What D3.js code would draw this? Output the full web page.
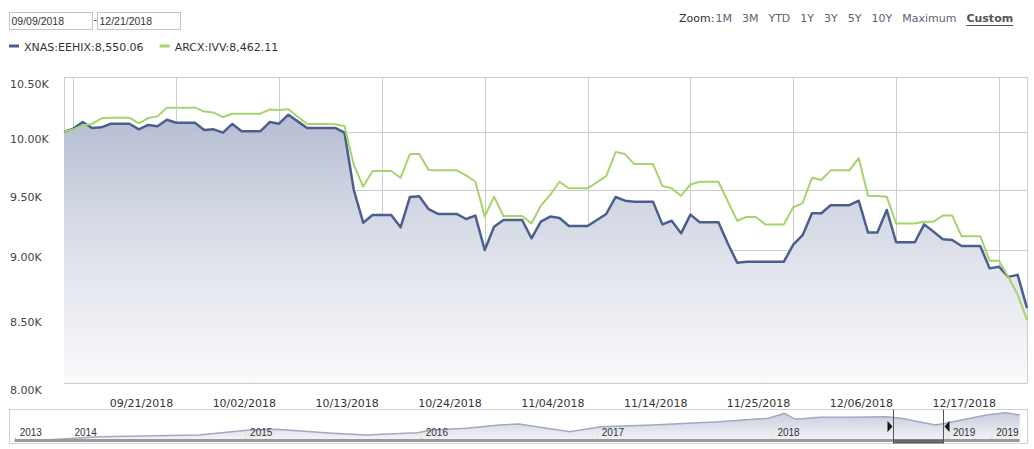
<!DOCTYPE html>
<html><head><meta charset="utf-8">
<script src="https://cdn.jsdelivr.net/npm/d3@7"></script>
<style>
html,body{margin:0;padding:0;background:#fff;}
svg{display:block;}
</style></head>
<body>
<svg id="chart" width="1034" height="449"></svg>
<script>
// ---------------- DATA ----------------
const startDate = "2018-09-09";
const endDate = "2018-12-21";
const seriesNames = ["XNAS:EEHIX", "ARCX:IVV"];
// daily values (weekends carry Friday's value), growth of 10,000
const eehix = [10000,10029,10088,10035,10041,10073,10073,10073,10023,10062,
  10050,10109,10082,10082,10082,10017,10023,9993,10071,10005,
  10005,10005,10088,10073,10154,10094,10035,10035,10035,10035,
  9993,9497,9225,9288,9288,9288,9187,9438,9444,9336,
  9297,9297,9297,9255,9283,9004,9192,9247,9247,9247,
  9098,9233,9275,9264,9198,9198,9198,9247,9297,9438,
  9407,9399,9399,9399,9211,9241,9138,9291,9228,9228,
  9228,9056,8903,8911,8911,8911,8911,8911,9047,9123,
  9303,9303,9369,9369,9369,9407,9144,9144,9330,9066,
  9066,9066,9211,9152,9090,9084,9036,9036,9036,8858,
  8871,8791,8807,8550.06];
const ivv = [10000,10023,10059,10071,10121,10127,10127,10127,10077,10124,
  10139,10218,10218,10218,10218,10182,10173,10133,10163,10163,
  10163,10163,10200,10197,10203,10136,10071,10071,10071,10068,
  10053,9710,9525,9659,9659,9659,9601,9805,9805,9667,
  9664,9664,9664,9621,9567,9275,9441,9280,9280,9280,
  9219,9365,9455,9567,9511,9511,9511,9561,9616,9823,
  9805,9718,9718,9718,9531,9511,9447,9544,9567,9567,
  9567,9401,9241,9272,9272,9211,9211,9211,9352,9386,
  9601,9582,9664,9664,9664,9770,9447,9447,9441,9219,
  9219,9219,9233,9233,9283,9283,9115,9115,9115,8919,
  8919,8791,8654,8462.11];
const yTickValues = [8000, 8500, 9000, 9500, 10000, 10500];
const xTickDates = ["2018-09-10","2018-09-21","2018-10-02","2018-10-13","2018-10-24",
  "2018-11-04","2018-11-15","2018-11-26","2018-12-07","2018-12-18"];
const xTickLabels = ["","09/21/2018","10/02/2018","10/13/2018","10/24/2018",
  "11/04/2018","11/14/2018","11/25/2018","12/06/2018","12/17/2018"];
const zoomLabels = ["1M","3M","YTD","1Y","3Y","5Y","10Y","Maximum"];
const customLabel = "Custom";
// navigator (long history)
const navDates = ["2013-09-09","2013-11-10","2014-03-05","2014-09-27","2014-12-05",
  "2015-01-10","2015-03-06","2015-07-01","2015-09-09","2015-12-24","2016-01-26",
  "2016-04-05","2016-06-13","2016-07-23","2016-11-06","2017-01-10","2017-04-27",
  "2017-09-13","2017-12-24","2018-01-26","2018-02-18","2018-04-10","2018-06-13",
  "2018-08-25","2018-09-26","2018-12-05","2018-12-27","2019-03-22","2019-05-01","2019-05-30"];
const navValues = [10000,10231,11320,11881,12970,
  13531,13762,12442,11881,12640,13531,
  14092,15181,15511,12970,14620,15181,
  16270,17392,19042,17062,17722,17722,
  17920,17392,15181,15742,18481,19240,18481];
const navTickDates = ["2013-09-09","2014-01-01","2015-01-01","2016-01-01","2017-01-01",
  "2018-01-01","2019-01-01","2019-04-01"];
const navTickLabels = ["2013","2014","2015","2016","2017","2018","2019","2019"];

// ---------------- DRAW ----------------
const svg = d3.select("#chart");
const parse = d3.utcParse("%Y-%m-%d");
const t0 = parse(startDate), t1 = parse(endDate);
const dates = eehix.map((_, i) => d3.utcDay.offset(t0, i));

const x = d3.scaleUtc().domain([t0, t1]).range([64, 1027]);
const y = d3.scaleLog().domain([8000, 10500]).range([383, 77]);

const BLUE = "#4b5f8f", GREEN = "#a6d36b", FONT = "'DejaVu Sans', Verdana, sans-serif";

// gradient
const defs = svg.append("defs");
const grad = defs.append("linearGradient").attr("id", "areaGrad")
  .attr("gradientUnits", "userSpaceOnUse").attr("x1", 0).attr("x2", 0).attr("y1", 77).attr("y2", 383);
[[0, "#a9b2ca"], [0.4, "#d0d5e2"], [0.7, "#e7e9f0"], [1, "#fafafc"]]
  .forEach(([o, c]) => grad.append("stop").attr("offset", o).attr("stop-color", c));
const ngrad = defs.append("linearGradient").attr("id", "navGrad")
  .attr("gradientUnits", "userSpaceOnUse").attr("x1", 0).attr("x2", 0).attr("y1", 410).attr("y2", 441);
[[0, "#c3c9da"], [1, "#f4f5f8"]]
  .forEach(([o, c]) => ngrad.append("stop").attr("offset", o).attr("stop-color", c));

// top controls: date inputs
const dateFmt = d3.utcFormat("%m/%d/%Y");
[[9.5, t0], [97.5, t1]].forEach(([bx, d]) => {
  svg.append("rect").attr("x", bx).attr("y", 12.5).attr("width", 83).attr("height", 17)
    .attr("fill", "#fff").attr("stroke", "#c4c4c4");
  svg.append("text").attr("x", bx + 2).attr("y", 24.5).text(dateFmt(d))
    .attr("font-family", "'Liberation Sans', Arial, sans-serif").attr("font-size", 10.5).attr("fill", "#333");
});
svg.append("text").attr("x", 93.5).attr("y", 22.5).text("-")
  .attr("font-family", "'Liberation Sans', Arial, sans-serif").attr("font-size", 10.5).attr("fill", "#333");

// zoom bar
let zx = 679;
const zt = svg.append("text").attr("x", zx).attr("y", 22).text("Zoom:")
  .attr("font-family", FONT).attr("font-size", 11).attr("fill", "#333");
zx += zt.node().getComputedTextLength() + 1;
zoomLabels.forEach(l => {
  const t = svg.append("text").attr("x", zx).attr("y", 22).text(l)
    .attr("font-family", FONT).attr("font-size", 11).attr("fill", "#5e5e74");
  zx += t.node().getComputedTextLength() + 10;
});
const ct = svg.append("text").attr("x", zx).attr("y", 22).text(customLabel)
  .attr("font-family", FONT).attr("font-size", 11).attr("font-weight", "bold").attr("fill", "#555");
svg.append("line").attr("x1", zx).attr("x2", zx + ct.node().getComputedTextLength())
  .attr("y1", 25.5).attr("y2", 25.5).attr("stroke", "#555");

// legend
const series = [[eehix, BLUE], [ivv, GREEN]];
const numFmt = d3.format(",.2f");
let lx = 9;
series.forEach(([vals, col], k) => {
  svg.append("rect").attr("x", lx).attr("y", 44.5).attr("width", 10).attr("height", 3).attr("fill", col);
  const t = svg.append("text").attr("x", lx + 15).attr("y", 50.5)
    .text(seriesNames[k] + ":" + numFmt(vals[vals.length - 1]))
    .attr("font-family", FONT).attr("font-size", 11).attr("fill", "#333");
  lx += 15 + t.node().getComputedTextLength() + 16;
});

// grid
const grid = svg.append("g").attr("stroke", "#cccccc").attr("stroke-width", 1);
yTickValues.forEach(v => grid.append("line").attr("x1", 64).attr("x2", 1027)
  .attr("y1", Math.round(y(v)) + 0.5).attr("y2", Math.round(y(v)) + 0.5));
xTickDates.forEach(d => grid.append("line")
  .attr("x1", Math.round(x(parse(d))) + 0.5).attr("x2", Math.round(x(parse(d))) + 0.5)
  .attr("y1", 77).attr("y2", 383));
grid.append("line").attr("x1", 64.5).attr("x2", 64.5).attr("y1", 77).attr("y2", 383);
grid.append("line").attr("x1", 1027.5).attr("x2", 1027.5).attr("y1", 77).attr("y2", 383);

// y labels
const yFmt = v => d3.format(".2f")(v / 1000) + "K";
yTickValues.forEach(v => svg.append("text").attr("x", 10).attr("y", Math.round(y(v)) + 11)
  .text(yFmt(v)).attr("font-family", FONT).attr("font-size", 11).attr("fill", "#444"));
// x labels
xTickDates.forEach((d, i) => svg.append("text").attr("x", x(parse(d)) - 3).attr("y", 407)
  .attr("text-anchor", "end").text(xTickLabels[i])
  .attr("font-family", FONT).attr("font-size", 11).attr("fill", "#333"));

// area + lines
const area = d3.area().x((d, i) => x(dates[i])).y0(383).y1(d => y(d));
svg.append("path").datum(eehix).attr("d", area).attr("fill", "url(#areaGrad)");
const line = d3.line().x((d, i) => x(dates[i])).y(d => y(d));
svg.append("path").datum(eehix).attr("d", line).attr("fill", "none")
  .attr("stroke", BLUE).attr("stroke-width", 2.5).attr("stroke-linejoin", "round");
svg.append("path").datum(ivv).attr("d", line).attr("fill", "none")
  .attr("stroke", GREEN).attr("stroke-width", 2).attr("stroke-linejoin", "round");

// navigator
const nx = d3.scaleUtc().domain([parse("2014-01-01"), parse("2019-01-01")]).range([69.5, 948]);
const ny = d3.scaleLinear().domain([10000, 19900]).range([440.7, 410.7]);
svg.append("rect").attr("x", 9.5).attr("y", 409.5).attr("width", 1018).attr("height", 34)
  .attr("fill", "#fff").attr("stroke", "#d0d0d0");
const nd = navDates.map(parse);
const narea = d3.area().x((d, i) => nx(nd[i])).y0(441).y1(d => ny(d));
svg.append("path").datum(navValues).attr("d", narea).attr("fill", "url(#navGrad)");
svg.append("path").datum(navValues).attr("d", d3.line().x((d, i) => nx(nd[i])).y(d => ny(d)))
  .attr("fill", "none").attr("stroke", "#9fa9c3").attr("stroke-width", 1.5);
svg.append("rect").attr("x", nx(nd[0])).attr("y", 439).attr("width", nx(nd[nd.length - 1]) - nx(nd[0]))
  .attr("height", 3).attr("fill", "#999");
navTickDates.forEach((d, i) => {
  const tx = nx(parse(d));
  svg.append("line").attr("x1", tx + 0.5).attr("x2", tx + 0.5).attr("y1", 437).attr("y2", 439)
    .attr("stroke", "#d6dc9a");
  svg.append("text").attr("x", tx + 5).attr("y", 436).text(navTickLabels[i])
    .attr("font-family", "'Liberation Sans', Arial, sans-serif").attr("font-size", 10).attr("fill", "#333");
});
// selection
const s0 = Math.round(nx(t0)) + 0.5, s1 = Math.round(nx(t1)) + 0.5;
svg.append("rect").attr("x", s0).attr("y", 439.5).attr("width", s1 - s0).attr("height", 4).attr("fill", "#666");
[s0, s1].forEach(sx => svg.append("line").attr("x1", sx).attr("x2", sx).attr("y1", 409.5).attr("y2", 443.5)
  .attr("stroke", "#555"));
svg.append("path").attr("d", `M${s0 - 6},${421}L${s0 - 1},${426.5}L${s0 - 6},${432}Z`).attr("fill", "#111");
svg.append("path").attr("d", `M${s1 + 6},${421}L${s1 + 1},${426.5}L${s1 + 6},${432}Z`).attr("fill", "#111");
</script>
</body></html>
